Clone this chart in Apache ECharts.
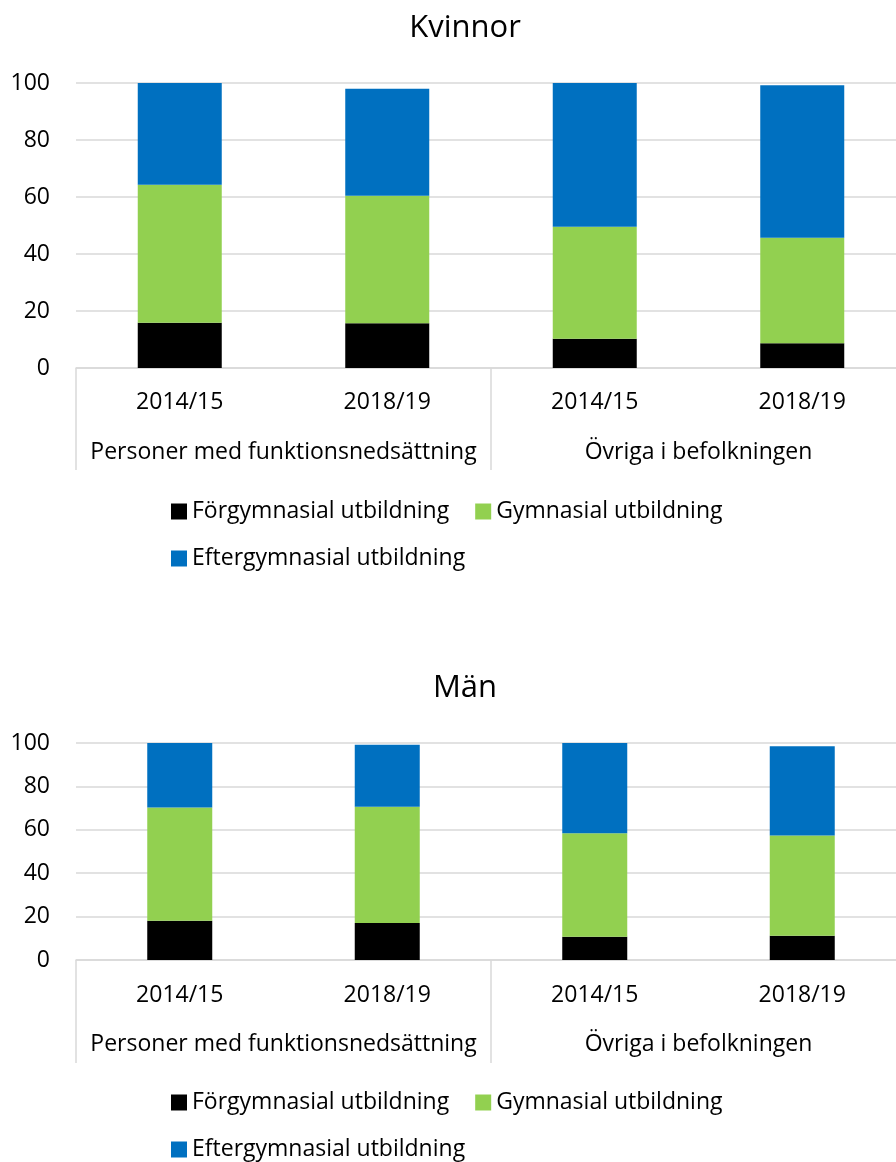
<!doctype html>
<html>
<head>
<meta charset="UTF-8">
<title>Kvinnor / Män</title>
<script src="https://cdn.jsdelivr.net/npm/echarts@6/dist/echarts.min.js"></script>
<style>
  html, body { margin: 0; padding: 0; background: #fff; }
  #main { width: 896px; height: 1162px; }
</style>
</head>
<body>
<div id="main"></div>
<script>
// data (percent)
var years = ['2014/15', '2018/19', '2014/15', '2018/19'];
var groups = ['Personer med funktionsnedsättning', 'Övriga i befolkningen'];
var seriesNames = ['Förgymnasial utbildning', 'Gymnasial utbildning', 'Eftergymnasial utbildning'];
var colors = ['#000000', '#92d050', '#0070c0'];

var kvinnorForg = [15.9, 15.7, 10.3, 8.7];
var kvinnorGymn = [48.4, 44.7, 39.3, 37.0];
var kvinnorEfter = [35.7, 37.6, 50.4, 53.5];

var manForg = [18.1, 17.0, 10.7, 11.2];
var manGymn = [52.2, 53.6, 47.7, 46.2];
var manEfter = [29.7, 28.6, 41.6, 41.1];

var yTicks = { min: 0, max: 100, interval: 20 };

var FONT = 'Open Sans';
var FS = 23;
var GRAY = '#d9d9d9';

function yearAxis(gridIndex, margin) {
    return {
        type: 'category', gridIndex: gridIndex, data: years, position: 'bottom',
        axisLine: { lineStyle: { color: GRAY, width: 1.5 } },
        axisTick: { show: false },
        axisLabel: { color: '#000', fontSize: FS, fontFamily: FONT, margin: margin, interval: 0 }
    };
}
function groupAxis(gridIndex, margin, tickLen) {
    return {
        type: 'category', gridIndex: gridIndex, data: groups, position: 'bottom', offset: 0,
        axisLine: { show: false },
        axisTick: { show: true, length: tickLen, lineStyle: { color: GRAY, width: 1.5 } },
        axisLabel: { color: '#000', fontSize: FS, fontFamily: FONT, margin: margin, interval: 0 }
    };
}
function valueAxis(gridIndex) {
    return {
        type: 'value', gridIndex: gridIndex, min: yTicks.min, max: yTicks.max, interval: yTicks.interval,
        axisLine: { show: false }, axisTick: { show: false },
        splitLine: { lineStyle: { color: GRAY, width: 1.5 } },
        axisLabel: { color: '#000', fontSize: FS, fontFamily: FONT, margin: 26 }
    };
}
function bars(values, idx, axisIdx, stack, width) {
    return {
        name: seriesNames[idx], type: 'bar', stack: stack,
        xAxisIndex: axisIdx, yAxisIndex: axisIdx / 2,
        barWidth: width, data: values,
        itemStyle: { color: colors[idx] }
    };
}
function legendRow(top, names) {
    return {
        top: top, left: 166, orient: 'horizontal', data: names,
        icon: 'rect', itemWidth: 16, itemHeight: 16, itemGap: 26,
        selectedMode: false,
        textStyle: { color: '#000', fontSize: FS, fontFamily: FONT }
    };
}

var myChart = echarts.init(document.getElementById('main'));
myChart.setOption({
    backgroundColor: '#fff',
    animation: false,
    textStyle: { fontFamily: FONT },
    title: [
        { text: 'Kvinnor', left: 460, top: 8, textAlign: 'center',
          textStyle: { color: '#000', fontSize: 31, fontWeight: 'normal', fontFamily: FONT } },
        { text: 'Män', left: 460, top: 668, textAlign: 'center',
          textStyle: { color: '#000', fontSize: 31, fontWeight: 'normal', fontFamily: FONT } }
    ],
    legend: [
        legendRow(495, seriesNames.slice(0, 2)),
        legendRow(542, seriesNames.slice(2)),
        legendRow(1086, seriesNames.slice(0, 2)),
        legendRow(1133, seriesNames.slice(2))
    ],
    grid: [
        { left: 76, top: 83, width: 830, height: 285, outerBoundsMode: 'none' },
        { left: 76, top: 743, width: 830, height: 217, outerBoundsMode: 'none' }
    ],
    xAxis: [
        yearAxis(0, 23), groupAxis(0, 73, 102),
        yearAxis(1, 24), groupAxis(1, 73, 103)
    ],
    yAxis: [valueAxis(0), valueAxis(1)],
    series: [
        bars(kvinnorForg, 0, 0, 'k', 84),
        bars(kvinnorGymn, 1, 0, 'k', 84),
        bars(kvinnorEfter, 2, 0, 'k', 84),
        bars(manForg, 0, 2, 'm', 65),
        bars(manGymn, 1, 2, 'm', 65),
        bars(manEfter, 2, 2, 'm', 65)
    ]
});
</script>
</body>
</html>
